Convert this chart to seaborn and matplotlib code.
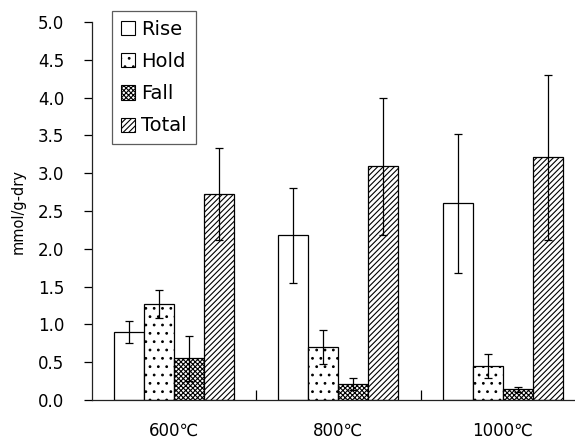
import pandas as pd
import matplotlib
matplotlib.use("Agg")
import matplotlib.pyplot as plt
import seaborn as sns
from matplotlib.patches import Patch

temps = ["600℃", "800℃", "1000℃"]
phases = ["Rise", "Hold", "Fall", "Total"]

# valori medi e barre d'errore
rise = [0.90, 2.18, 2.60]
hold = [1.27, 0.70, 0.45]
fall = [0.55, 0.21, 0.14]
total = [2.72, 3.09, 3.21]

rise_err = [0.15, 0.63, 0.92]
hold_err = [0.19, 0.23, 0.155]
fall_err = [0.30, 0.08, 0.03]
total_err = [0.61, 0.91, 1.09]

hatches = ["", "..", "xxxxxxx", "//////"]

df = pd.DataFrame({
    "temp": temps * 4,
    "phase": [p for p in phases for _ in temps],
    "val": rise + hold + fall + total,
})
errs = [rise_err, hold_err, fall_err, total_err]

sns.set_style("ticks")
plt.rcParams["font.family"] = ["DejaVu Sans", "Noto Sans CJK JP"]
plt.rcParams["hatch.linewidth"] = 0.8
plt.rcParams["text.color"] = "black"
plt.rcParams["xtick.color"] = "black"
plt.rcParams["ytick.color"] = "black"
plt.rcParams["axes.labelcolor"] = "black"

fig = plt.figure(figsize=(5.75, 4.43), dpi=100)
ax = fig.add_axes([0.16, 0.0971, 0.857, 0.8532])

sns.barplot(data=df, x="temp", y="val", hue="phase", order=temps, hue_order=phases,
            palette=["white"] * 4, edgecolor="black", linewidth=0.9,
            width=0.73, errorbar=None, ax=ax, legend=False)

for cont, h, e in zip(ax.containers, hatches, errs):
    xs, ys = [], []
    for bar in cont:
        bar.set_hatch(h)
        xs.append(bar.get_x() + bar.get_width() / 2)
        ys.append(bar.get_height())
    ax.errorbar(xs, ys, yerr=e, fmt="none", ecolor="black", elinewidth=0.9,
                capsize=3, capthick=0.9)

ax.set_xlim(-0.5, 2.5)
ax.set_ylim(0, 5)
ax.set_yticks([i * 0.5 for i in range(11)])
ax.set_yticklabels([f"{i * 0.5:.1f}" for i in range(11)])
ax.set_xticks([0, 1, 2])
ax.set_xticks([0.5, 1.5], minor=True)
ax.tick_params(axis="x", which="major", length=0, pad=16, labelsize=12)
ax.tick_params(axis="x", which="minor", direction="in", length=7, width=0.9)
ax.tick_params(axis="y", direction="out", length=6, width=0.9, labelsize=12, pad=14)
ax.set_xlabel("")
ax.set_ylabel("mmol/g-dry", fontsize=10.5, labelpad=9)
sns.despine(ax=ax)
for s in ["left", "bottom"]:
    ax.spines[s].set_linewidth(0.9)
    ax.spines[s].set_color("#222222")

handles = [Patch(facecolor="white", edgecolor="black", hatch=h, linewidth=0.8) for h in hatches]
leg = fig.legend(handles, phases, loc="upper left", bbox_to_anchor=(0.195, 0.975),
                 fontsize=14, frameon=True, fancybox=False, handlelength=0.75,
                 handleheight=0.75, handletextpad=0.3, labelspacing=0.68,
                 borderpad=0.45, borderaxespad=0)
leg.get_frame().set_edgecolor("#333333")
leg.get_frame().set_linewidth(0.9)

fig.savefig("out.png", dpi=100)
